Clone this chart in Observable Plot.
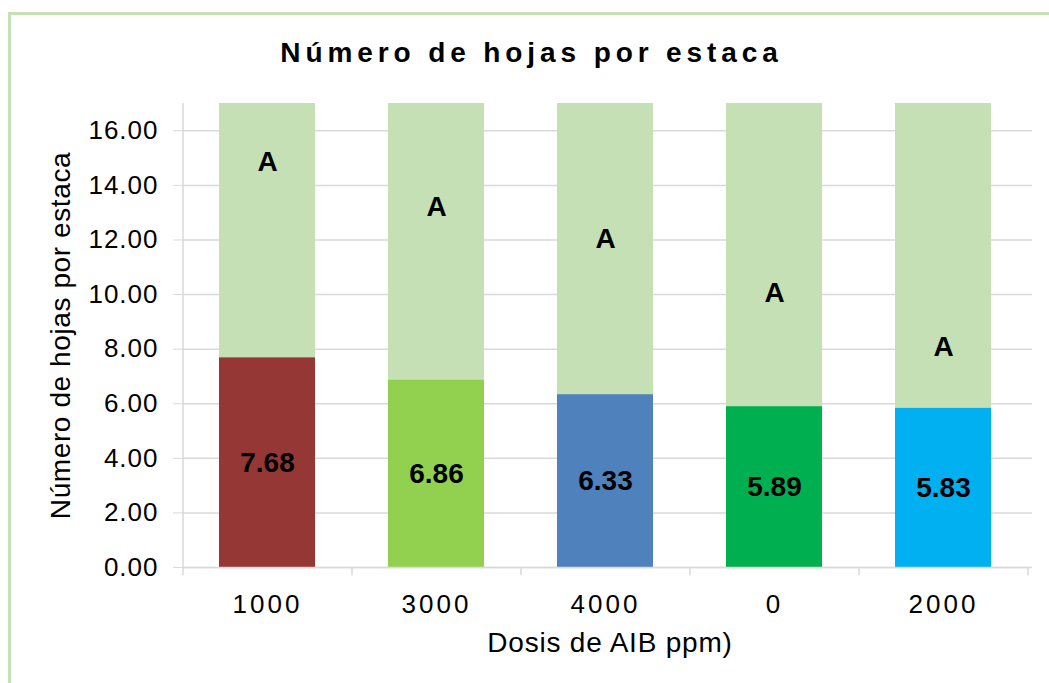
<!DOCTYPE html>
<html>
<head>
<meta charset="utf-8">
<script src="https://cdn.jsdelivr.net/npm/d3@7"></script>
<script src="https://cdn.jsdelivr.net/npm/@observablehq/plot@0.6"></script>
<style>
html, body { margin: 0; padding: 0; background: #fff; }
#wrap { position: relative; width: 1049px; height: 683px; overflow: hidden; background: #fff; font-family: "Liberation Sans", Arial, sans-serif; }
#chart { position: absolute; left: 0; top: 0; }
#border { position: absolute; left: 8px; top: 12px; width: 1100px; height: 720px; border-left: 3px solid #c5e0b4; border-top: 3px solid #c5e0b4; box-sizing: border-box; pointer-events: none; }
#title { position: absolute; left: 7px; top: 39px; width: 1049px; text-align: center; font-weight: bold; font-size: 28px; line-height: 28px; letter-spacing: 4.9px; color: #000; white-space: nowrap; }
g[aria-label="x-axis tick label"] text { letter-spacing: 3px; }
g[aria-label="y-axis tick label"] text { letter-spacing: 1px; }
g[aria-label="y-axis tick"] { stroke: #d9d9d9; }
</style>
</head>
<body>
<div id="wrap">
  <div id="chart"></div>
  <div id="border"></div>
  <div id="title">Número de hojas por estaca</div>
</div>
<script>
// ---- data ----
const doses = ["1000", "3000", "4000", "0", "2000"];
const means = [7.68, 6.86, 6.33, 5.89, 5.83];
const letters = ["A", "A", "A", "A", "A"];
const letterPos = [14.84, 13.19, 12.03, 10.06, 8.07];
const barColors = ["#953735", "#92d050", "#4f81bd", "#00b050", "#00b0f0"];
const yTicks = [0, 2, 4, 6, 8, 10, 12, 14, 16];
const yMax = 17;
const yTitle = "Número de hojas por estaca";
const xTitle = "Dosis de AIB ppm)";

const data = doses.map((d, i) => ({dose: d, mean: means[i], letter: letters[i], ly: letterPos[i], top: yMax}));

// ---- layout ----
const W = 1049, H = 683, mL = 183, mR = 21, mT = 103, mB = 116;
const step = (W - mL - mR) / doses.length;
const font = "'Liberation Sans', Arial, sans-serif";
const grey = "#d9d9d9";

const chart = Plot.plot({
  width: W, height: H,
  marginTop: mT, marginBottom: mB, marginLeft: mL, marginRight: mR,
  style: {background: "transparent", fontFamily: font, color: "#000", overflow: "visible"},
  x: {domain: doses, paddingInner: 0.43, paddingOuter: 0.215, label: null},
  y: {domain: [0, yMax], label: null},
  color: {domain: doses, range: barColors},
  marks: [
    Plot.gridY(yTicks, {stroke: grey, strokeOpacity: 1, strokeWidth: 1.5, insetRight: -4}),
    Plot.barY(data, {x: "dose", y: "top", fill: "#c5e0b4"}),
    Plot.barY(data, {x: "dose", y: "mean", fill: "dose"}),
    Plot.ruleY([0], {stroke: grey, strokeWidth: 1.5, insetRight: -2}),
    Plot.ruleX([doses[0]], {x: d => d, dx: -step / 2, y1: 0, y2: yMax, stroke: grey, strokeWidth: 1.5}),
    Plot.ruleX(doses, {x: d => d, dx: -step / 2, y1: 0, y2: -0.3, stroke: grey, strokeWidth: 1.5, clip: false}),
    Plot.ruleX([doses[doses.length - 1]], {x: d => d, dx: step / 2, y1: 0, y2: -0.3, stroke: grey, strokeWidth: 1.5}),
    Plot.text(data, {x: "dose", y: d => d.mean / 2, text: d => d3.format(".2f")(d.mean), fontSize: 28, fontWeight: "bold", fill: "#000"}),
    Plot.text(data, {x: "dose", y: "ly", text: "letter", fontSize: 28, fontWeight: "bold", fill: "#000"}),
    Plot.axisY({ticks: yTicks, tickFormat: d3.format(".2f"), tickSize: 10, tickPadding: 15, fontSize: 26, stroke: grey, fill: "#000"}),
    Plot.axisX({tickSize: 0, tickPadding: 27, fontSize: 26, fill: "#000"}),
    Plot.text([yTitle], {text: d => d, frameAnchor: "left", textAnchor: "middle", dx: -122, rotate: -90, fontSize: 28, fill: "#000"}),
    Plot.text([xTitle], {text: d => d, frameAnchor: "bottom", textAnchor: "middle", dx: 4, dy: 84, fontSize: 28, fill: "#000"})
  ]
});
document.getElementById("chart").appendChild(chart);
d3.select(chart).selectAll("text").filter(function () { return this.textContent === yTitle; }).style("letter-spacing", "0.6px");
d3.select(chart).selectAll("text").filter(function () { return this.textContent === xTitle; }).style("letter-spacing", "0.8px");
</script>
</body>
</html>
